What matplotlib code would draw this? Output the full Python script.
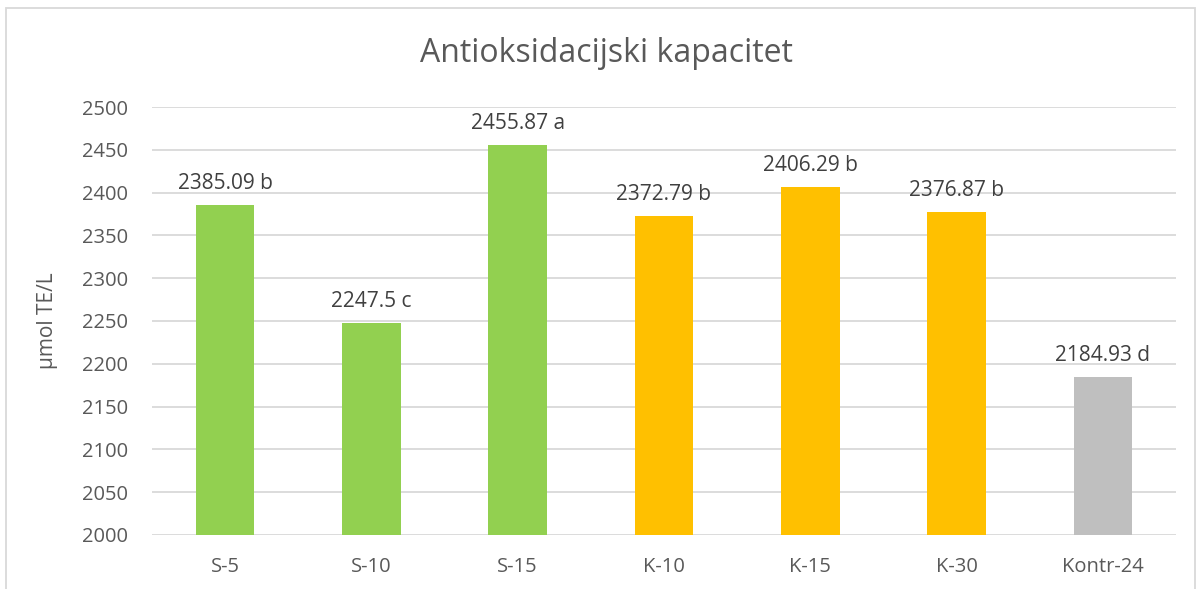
import matplotlib
matplotlib.use("Agg")
import matplotlib.pyplot as plt
from matplotlib.patches import Rectangle

categories = ["S-5", "S-10", "S-15", "K-10", "K-15", "K-30", "Kontr-24"]
values = [2385.09, 2247.5, 2455.87, 2372.79, 2406.29, 2376.87, 2184.93]
letters = ["b", "c", "a", "b", "b", "b", "d"]
colors = ["#92D050", "#92D050", "#92D050", "#FFC000", "#FFC000", "#FFC000", "#BFBFBF"]
yticks = list(range(2000, 2501, 50))

plt.rcParams['font.family'] = ['Open Sans', 'DejaVu Sans']
W, H = 1201, 589
fig = plt.figure(figsize=(W/100, H/100), dpi=100)
ax = fig.add_axes([152/W, 1-535/H, (1176-152)/W, (535-107)/H])

x = list(range(len(categories)))
ax.bar(x, [v - 2000 for v in values], bottom=2000, width=0.40, color=colors, zorder=3)
ax.set_xlim(-0.5, len(categories)-0.5)
ax.set_ylim(2000, 2500)
ax.set_yticks(yticks)
ax.set_xticks(x)
ax.set_xticklabels(categories)
ax.tick_params(axis='both', length=0, colors='#595959', labelsize=14.5)
ax.tick_params(axis='y', pad=17)
ax.tick_params(axis='x', pad=16)
for s in ax.spines.values():
    s.set_visible(False)
ax.grid(axis='y', color='#D9D9D9', linewidth=1.3, zorder=0)

for xi, v, l in zip(x, values, letters):
    ax.annotate(f"{v:g} {l}", (xi, v), xytext=(0, 8), textcoords='offset points',
                ha='center', va='bottom', fontsize=15, color='#404040')

fig.text(48/W, 1-321/H, "µmol TE/L", rotation=90, ha='center', va='center', fontsize=15, color='#595959')
fig.text(606/W, 1-54/H, "Antioksidacijski kapacitet", ha='center', va='center', fontsize=23, color='#595959')

fig.patches.append(Rectangle((6/W, -0.1), (1195-6)/W, 1.1-8/H, transform=fig.transFigure,
                             fill=False, edgecolor='#D9D9D9', linewidth=1.3))
fig.savefig("out.png", dpi=100)
